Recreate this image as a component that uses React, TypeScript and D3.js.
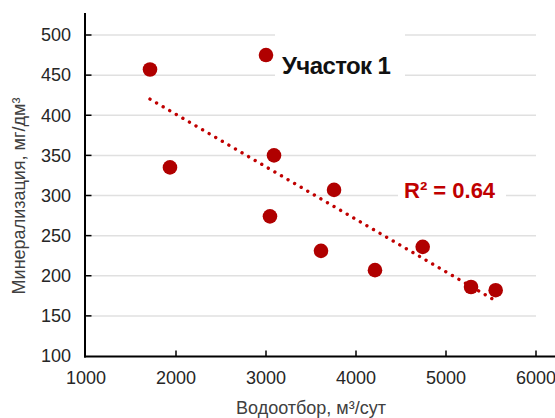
import React from "react";
import * as d3 from "d3";

const waterIntake = [1711, 3000, 1933, 3089, 3756, 3044, 3611, 4211, 4741, 5278, 5552];
const mineralization = [457, 475, 335, 350, 307, 274, 231, 207, 236, 186, 182];
const xTicks = [1000, 2000, 3000, 4000, 5000, 6000];
const yTicks = [100, 150, 200, 250, 300, 350, 400, 450, 500];
const titleText = "Участок 1";
const r2Text = "R² = 0.64";
const xTitle = "Водоотбор, м³/сут";
const yTitle = "Минерализация, мг/дм³";

export default function App() {
  const W = 555, H = 418;
  const x = d3.scaleLinear().domain([1000, 6000]).range([86, 536]);
  const y = d3.scaleLinear().domain([100, 500]).range([356, 35]);

  const pts = waterIntake.map((v, i) => [v, mineralization[i]] as [number, number]);
  const mx = d3.mean(waterIntake)!;
  const my = d3.mean(mineralization)!;
  const sxy = d3.sum(pts, p => (p[0] - mx) * (p[1] - my));
  const sxx = d3.sum(pts, p => (p[0] - mx) ** 2);
  const slope = sxy / sxx;
  const icpt = my - slope * mx;
  const [x0, x1] = d3.extent(waterIntake) as [number, number];
  const trend = d3.line<number>().x(v => x(v)).y(v => y(icpt + slope * v))([x0, x1]);

  const font = "'Liberation Sans', Arial, sans-serif";
  const red = "#b00000";

  return (
    <svg width={W} height={H} style={{ position: "absolute", left: 0, top: 0, background: "#fff" }} fontFamily={font}>
      {yTicks.filter(t => t > 100).map(t => (
        <line key={"g" + t} x1={x(1000) + 1} x2={x(6000)} y1={y(t)} y2={y(t)} stroke="#e0e0e0" strokeWidth={1.5} />
      ))}
      <rect x={275} y={28} width={130} height={54} fill="#fff" />
      <text x={282} y={73.5} fontSize={24} fontWeight="bold" fill="#111" letterSpacing={-0.6}>{titleText}</text>
      <rect x={398} y={176} width={108} height={26} fill="#fff" />
      <text x={404} y={198} fontSize={22} fontWeight="bold" fill="#c00000">{r2Text}</text>
      <line x1={85} x2={85} y1={13} y2={357.5} stroke="#000" strokeWidth={2} />
      <line x1={84} x2={555} y1={356.5} y2={356.5} stroke="#000" strokeWidth={2} />
      {yTicks.filter(t => t > 100).map(t => (
        <line key={"yt" + t} x1={85} x2={91.5} y1={y(t)} y2={y(t)} stroke="#000" strokeWidth={1.5} />
      ))}
      {xTicks.filter(t => t > 1000).map(t => (
        <line key={"xt" + t} x1={x(t)} x2={x(t)} y1={350.5} y2={356} stroke="#000" strokeWidth={1.5} />
      ))}
      {yTicks.map(t => (
        <text key={"yl" + t} x={71} y={y(t)} dy="0.35em" textAnchor="end" fontSize={18} fill="#262626">{t}</text>
      ))}
      {xTicks.map(t => (
        <text key={"xl" + t} x={x(t)} y={384} textAnchor="middle" fontSize={18} fill="#262626">{t}</text>
      ))}
      <text x={311} y={414} textAnchor="middle" fontSize={18} fill="#404040">{xTitle}</text>
      <text transform={`translate(25,196) rotate(-90)`} textAnchor="middle" fontSize={18} fill="#404040">{yTitle}</text>
      <path d={trend ?? ""} fill="none" stroke="#c00000" strokeWidth={3.4} strokeDasharray="0.01 7.6" strokeLinecap="round" />
      {pts.map((p, i) => (
        <circle key={"p" + i} cx={x(p[0])} cy={y(p[1])} r={7.3} fill={red} />
      ))}
    </svg>
  );
}
